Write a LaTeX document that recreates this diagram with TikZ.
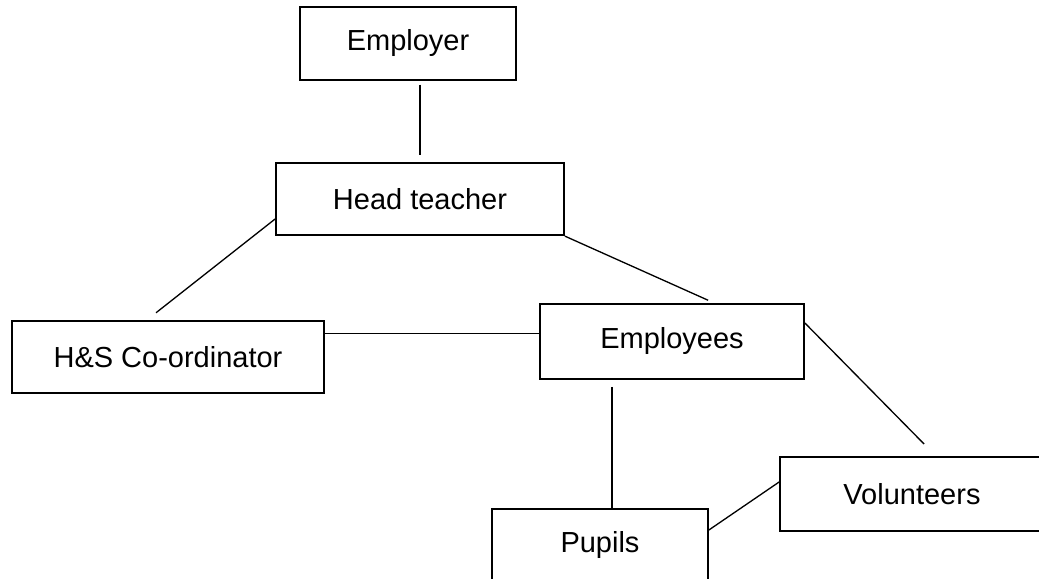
\documentclass[tikz,border=0pt]{standalone}
\usepackage{fontspec}
\setmainfont{Liberation Sans}
\usepackage{tikz}
\usetikzlibrary{positioning}
\tikzstyle{box} = [rectangle, draw=black, line width=1pt, minimum height=1.45cm, inner sep=0pt, text centered, font=\fontsize{16.5}{20}\selectfont]
\tikzstyle{link} = [line width=0.75pt, draw=black]

\begin{document}
\begin{tikzpicture}
        \useasboundingbox (0,0) rectangle (20.78,-11.58);
        \clip (0,0) rectangle (20.78,-11.58);
        \node (employer) [box, minimum width=4.32cm] at (8.16,-0.87) {Employer};
        \node (head) [box, minimum width=5.76cm] at (8.40,-3.98) {Head teacher};
        \node (hsco) [box, minimum width=6.24cm] at (3.36,-7.14) {H\&S Co-ordinator};
        \node (employees) [box, minimum width=5.28cm, minimum height=1.5cm] at (13.44,-6.83) {Employees};
        \node (volunteers) [box, minimum width=5.28cm, minimum height=1.48cm] at (18.24,-9.88) {Volunteers};
        \node (pupils) [box, minimum width=4.32cm] at (12.0,-10.9) {Pupils};
        
        \draw [link, shorten <=0.08cm, shorten >=0.14cm] (employer.south -| head.north) -- (head.north);
        \draw [link, shorten >=0.23cm] ([yshift=-0.4cm]head.west) -- ([xshift=-0.42cm]hsco.north);
        \draw [link, shorten >=0.14cm] (head.south east) -- ([xshift=0.85cm]employees.north);
        \draw [link] ([yshift=0.47cm]hsco.east) -- ([yshift=0.47cm]hsco.east -| employees.west);
        \draw [link, shorten <=0.14cm] ([xshift=0.24cm]pupils.north |- employees.south) -- ([xshift=0.24cm]pupils.north);
        \draw [link, shorten >=0.34cm] ([yshift=0.37cm]employees.east) -- ([xshift=0.48cm]volunteers.north);
        \draw [link] ([yshift=0.3cm]pupils.east) -- ([yshift=0.24cm]volunteers.west);
    \end{tikzpicture}
\end{document}
